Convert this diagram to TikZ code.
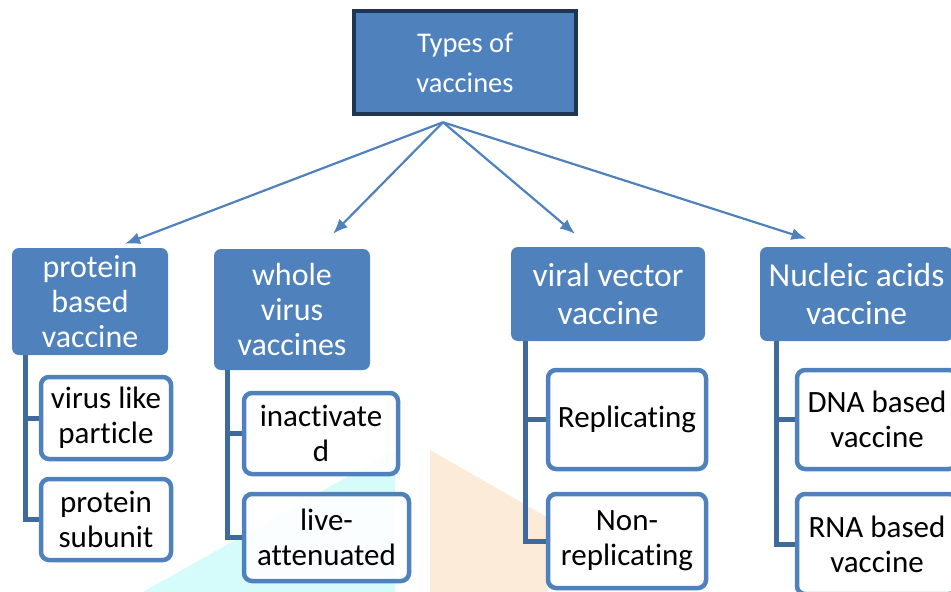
\documentclass[tikz,border=0pt]{standalone}
\usepackage{fontspec}
\setmainfont{Carlito}[Ligatures={NoCommon}]
\usetikzlibrary{arrows.meta}

\definecolor{vblue}{HTML}{4F81BD}
\definecolor{vdark}{HTML}{1F3552}
\definecolor{vbar}{HTML}{3F6A9C}
\definecolor{wmcyan}{HTML}{D6FBFB}
\definecolor{wmorange}{HTML}{FDEBD9}

\begin{document}
\begin{tikzpicture}[x=1pt, y=-1pt, line/.style={>={Latex[length=15pt,width=12pt]}},
	head/.style={fill=vblue, rounded corners=7pt, text=white, align=center, inner sep=0pt, font=\fontsize{32}{35}\selectfont},
	bighead/.style={head, font=\fontsize{33.5}{38}\selectfont},
	leaf/.style={draw=vblue, line width=4.5pt, fill=white, fill opacity=0.9, text opacity=1, rounded corners=8pt, align=center, inner sep=0pt, font=\fontsize{31}{35}\selectfont},
	bar/.style={draw=vbar, line width=5pt}]

	\useasboundingbox (0,0) rectangle (951,592);

	% faint marks in the background
	\fill[wmcyan] (143,592) -- (395,450) -- (395,592) -- cycle;
	\fill[wmorange] (430,450) -- (547,517) -- (547,592) -- (430,592) -- cycle;

	\node[draw=vdark, line width=4.5pt, fill=vblue, text=white, align=center, inner sep=0pt,
		minimum width=222pt, minimum height=103pt, font=\fontsize{28.5}{40}\selectfont]
		(types) at (465,62.5) {Types of\\vaccines};
	\coordinate (apex) at ([xshift=-22pt,yshift=-6pt]types.south);

	\node[head, minimum width=156pt, minimum height=107pt] (prot) at (90,301.5) {protein\\based\\vaccine};
	\node[head, minimum width=156pt, minimum height=121pt] (whole) at (292,309.5) {whole\\virus\\vaccines};
	\node[bighead, minimum width=194pt, minimum height=94pt] (viral) at (608,294) {viral vector\\vaccine};
	\node[bighead, minimum width=193pt, minimum height=94pt] (nucl) at (856.5,294) {Nucleic acids\\vaccine};

	\node[leaf, minimum width=130pt, minimum height=82pt] (pvlp) at (106,418) {virus like\\particle};
	\node[leaf, minimum width=130pt, minimum height=81pt] (psub) at (106,519.5) {protein\\subunit};
	\node[leaf, minimum width=154pt, minimum height=81pt] (winac) at (321,433.5) {inactivate\\d};
	\node[leaf, minimum width=165pt, minimum height=87pt] (wlive) at (326.5,537.5) {live-\\attenuated};
	\node[leaf, minimum width=158pt, minimum height=99pt] (vrep) at (627,419.5) {Replicating};
	\node[leaf, minimum width=158pt, minimum height=94pt] (vnon) at (627,541) {Non-\\replicating};
	\node[leaf, minimum width=160pt, minimum height=99pt] (ndna) at (877,419.5) {DNA based\\vaccine};
	\node[leaf, minimum width=160pt, minimum height=100pt] (nrna) at (877,544) {RNA based\\vaccine};

	\draw[bar] ([xshift=14pt]prot.south west) |- (pvlp.west);
	\draw[bar] ([xshift=14pt]prot.south west) |- (psub.west);
	\draw[bar] ([xshift=14pt]whole.south west) |- (winac.west);
	\draw[bar] ([xshift=14pt]whole.south west) |- (wlive.west);
	\draw[bar] ([xshift=15pt]viral.south west) |- (vrep.west);
	\draw[bar] ([xshift=15pt]viral.south west) |- (vnon.west);
	\draw[bar] ([xshift=17pt]nucl.south west) |- (ndna.west);
	\draw[bar] ([xshift=17pt]nucl.south west) |- (nrna.west);

	\draw[->, line, draw=vblue, line width=2.2pt] (apex) -- ([xshift=35pt,yshift=4pt]prot.north);
	\draw[->, line, draw=vblue, line width=2.2pt] (apex) -- ([xshift=41pt,yshift=15pt]whole.north);
	\draw[->, line, draw=vblue, line width=2.2pt] (apex) -- ([xshift=-33pt,yshift=13pt]viral.north);
	\draw[->, line, draw=vblue, line width=2.2pt] (apex) -- ([xshift=-50pt,yshift=8pt]nucl.north);

\end{tikzpicture}
\end{document}
